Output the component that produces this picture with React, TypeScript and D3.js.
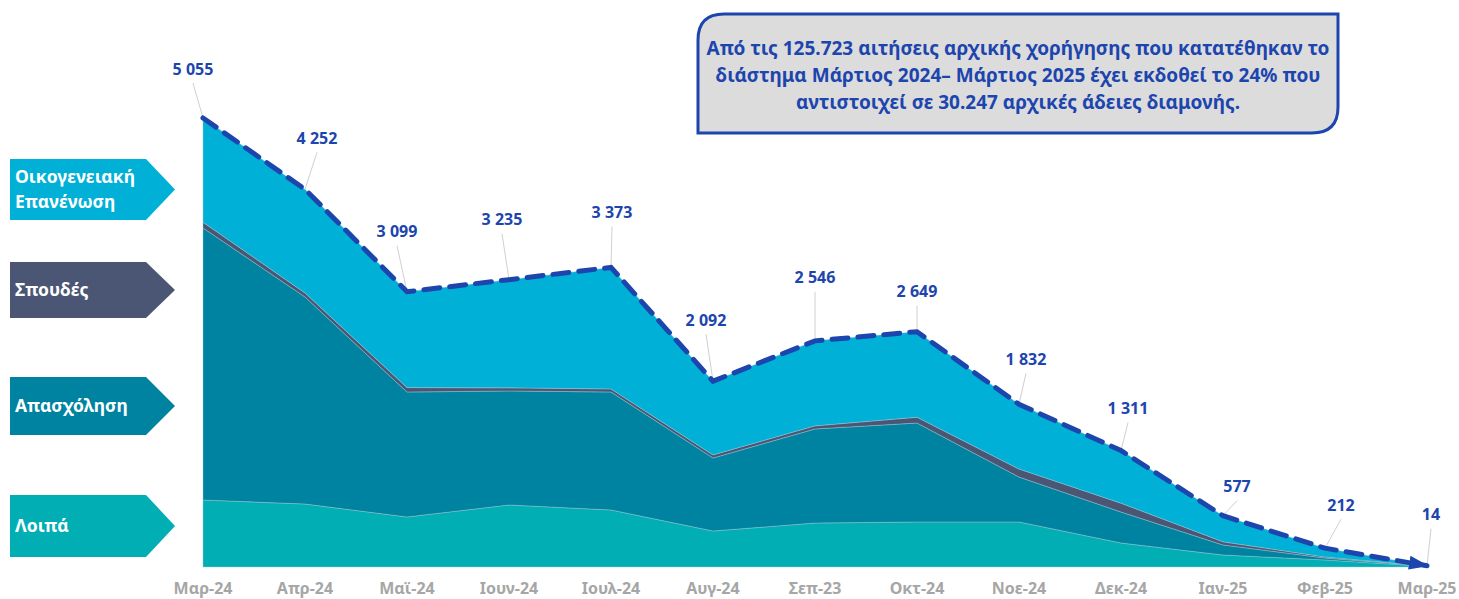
import React from "react";
import * as d3 from "d3";

// months on the x axis (the "Σεπ-23" typo is in the original)
const months = ["Μαρ-24", "Απρ-24", "Μαϊ-24", "Ιουν-24", "Ιουλ-24", "Αυγ-24", "Σεπ-23", "Οκτ-24", "Νοε-24", "Δεκ-24", "Ιαν-25", "Φεβ-25", "Μαρ-25"];

// stacked series, bottom to top
const loipa = [754, 709, 563, 698, 642, 405, 495, 507, 507, 270, 135, 79, 6];
const apasxolisi = [3063, 2331, 1407, 1284, 1328, 822, 1059, 1114, 506, 349, 113, 22, 4];
const spoudes = [65, 45, 50, 35, 35, 35, 35, 65, 90, 100, 35, 12, 1];
const oikogeneiaki = [1173, 1167, 1079, 1218, 1368, 830, 957, 963, 729, 592, 294, 99, 3];

const seriesKeys = ["loipa", "apasxolisi", "spoudes", "oikogeneiaki"];
const seriesColors = ["#00AEB4", "#0083A1", "#4A5674", "#00B0D6"];

// legend tags, top to bottom
const legendLabels = [["Οικογενειακή", "Επανένωση"], ["Σπουδές"], ["Απασχόληση"], ["Λοιπά"]];
const legendColors = ["#00B0D6", "#4A5674", "#0083A1", "#00AEB4"];

const calloutLines = [
  "Από τις 125.723 αιτήσεις αρχικής χορήγησης που κατατέθηκαν το",
  "διάστημα Μάρτιος 2024– Μάρτιος 2025 έχει εκδοθεί το 24% που",
  "αντιστοιχεί σε 30.247 αρχικές άδειες διαμονής.",
];

// where each total label sits relative to its point (dx, dy)
const labelNudge = [[-10, -49], [12, -51], [-10, -60], [-7, -60], [1, -55], [-7, -61], [0, -63], [0, -40], [7, -45], [7, -42], [14, -29], [16, -43], [4, -51]];

const W = 1459, H = 599;
const FONT = "'Noto Sans', 'Open Sans', sans-serif";
const BLUE = "#1D45AE";

export default function App() {
  const rows = months.map((m, i) => ({
    month: m,
    loipa: loipa[i],
    apasxolisi: apasxolisi[i],
    spoudes: spoudes[i],
    oikogeneiaki: oikogeneiaki[i],
  }));
  const totals = rows.map((r) => r.loipa + r.apasxolisi + r.spoudes + r.oikogeneiaki);

  const x = d3.scalePoint<string>().domain(months).range([203, 1427]);
  const y = d3.scaleLinear().domain([0, 5055]).range([567, 118]);

  const stacked = d3.stack<any>().keys(seriesKeys)(rows);
  const area = d3.area<any>()
    .x((d) => x(d.data.month)!)
    .y0((d) => y(d[0]))
    .y1((d) => y(d[1]));

  const totalLine = d3.line<number>()
    .x((_, i) => x(months[i])!)
    .y((d) => y(d));

  const fmt = (v: number) => d3.format(",")(v).replace(/,/g, " ");

  // callout box path: rounded top-left and bottom-right corners
  const bx = 698, by = 14, bw = 640, bh = 119, r = 26;
  const boxPath = `M${bx},${by + r} Q${bx},${by} ${bx + r},${by} L${bx + bw},${by} L${bx + bw},${by + bh - r} Q${bx + bw},${by + bh} ${bx + bw - r},${by + bh} L${bx},${by + bh} Z`;

  const legendBoxes = [[159, 220], [262, 318], [377, 435], [495, 557]];

  return (
    <svg width={W} height={H} style={{ position: "absolute", left: 0, top: 0, background: "#fff" }} fontFamily={FONT}>
      <defs>
        <marker id="arrow" viewBox="0 0 20 14" refX="18" refY="7" markerWidth="20" markerHeight="14" markerUnits="userSpaceOnUse" orient="auto">
          <path d="M0,0 L20,7 L0,14 Z" fill={BLUE} />
        </marker>
      </defs>

      {/* stacked areas */}
      {stacked.map((s, i) => (
        <path key={s.key} d={area(s)!} fill={seriesColors[i]} stroke="#9fc7d4" strokeWidth={0.6} strokeOpacity={0.7} />
      ))}

      {/* leader lines */}
      {totals.map((t, i) => {
        const px = x(months[i])!, py = y(t);
        const lx = px + labelNudge[i][0], ly = py + labelNudge[i][1] + 14;
        return <line key={"l" + i} x1={lx} y1={ly} x2={px} y2={py} stroke="#d0d0d0" strokeWidth={1} />;
      })}

      {/* dashed total line */}
      <path d={totalLine(totals)!} fill="none" stroke={BLUE} strokeWidth={5} strokeDasharray="16 10" strokeLinecap="round" markerEnd="url(#arrow)" />

      {/* total labels */}
      {totals.map((t, i) => (
        <text key={"t" + i} x={x(months[i])! + labelNudge[i][0]} y={y(t) + labelNudge[i][1]} dy="0.35em" textAnchor="middle" fontSize={16} fontWeight={700} fill={BLUE}>
          {fmt(t)}
        </text>
      ))}

      {/* x axis labels */}
      {months.map((m) => (
        <text key={m} x={x(m)} y={588} dy="0.35em" textAnchor="middle" fontSize={16} fontWeight={700} fill="#A6A6A6">
          {m}
        </text>
      ))}

      {/* legend tags */}
      {legendLabels.map((lines, i) => {
        const [t, b] = legendBoxes[i];
        const mid = (t + b) / 2;
        const d = `M10,${t} L146,${t} L175,${mid} L146,${b} L10,${b} Z`;
        return (
          <g key={"g" + i}>
            <path d={d} fill={legendColors[i]} />
            {lines.map((ln, j) => (
              <text key={j} x={15} y={mid + (j - (lines.length - 1) / 2) * 25} dy="0.35em" fontSize={17.5} fontWeight={700} fill="#fff">
                {ln}
              </text>
            ))}
          </g>
        );
      })}

      {/* callout */}
      <path d={boxPath} fill="#DCDCDC" stroke={BLUE} strokeWidth={3} />
      {calloutLines.map((ln, i) => (
        <text key={"c" + i} x={bx + bw / 2} y={48 + i * 27} dy="0.35em" textAnchor="middle" fontSize={19} fontWeight={700} fill={BLUE}>
          {ln}
        </text>
      ))}
    </svg>
  );
}
